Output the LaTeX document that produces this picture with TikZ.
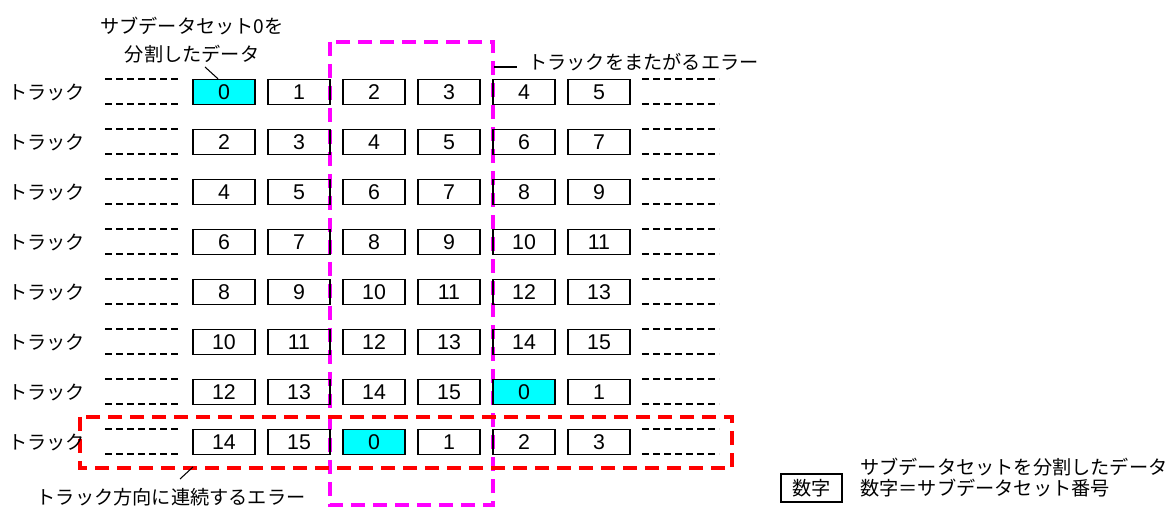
\documentclass[tikz,border=0pt]{standalone}
\usepackage{fontspec}
\setmainfont{Liberation Sans}
\newfontfamily\jpfont{Noto Sans CJK JP}
\definecolor{hitcyan}{RGB}{0,255,255}
\definecolor{errmag}{RGB}{255,0,255}
\definecolor{errred}{RGB}{255,0,0}
\begin{document}
\begin{tikzpicture}[x=0.75pt,y=-0.75pt]
  \tikzset{
    blk/.style={draw=black, line width=1pt, minimum width=46.5pt, minimum height=18.75pt, inner sep=0pt, font=\fontsize{16}{18}\selectfont},
    hit/.style={blk, fill=hitcyan},
    gap/.style={line width=1.5pt, dash pattern=on 5.25pt off 3pt},
    lbl/.style={inner sep=0pt, font=\jpfont\fontsize{14.4}{21}\selectfont},
    err/.style={line width=3pt, dash pattern=on 10.5pt off 6pt},
    lead/.style={line width=0.8pt}
  }
  \useasboundingbox (0,0) rectangle (1171,509);

  % error areas
  \draw[err, errmag] (330,42) rectangle (493,505);
  \draw[err, errred] (80,417) rectangle (732,468);

  % tracks with sub-dataset blocks
  \foreach \r in {0,...,7} {
    \pgfmathsetmacro{\y}{92+50*\r}
    \node[lbl, anchor=west] (t\r) at (8,\y) {トラック};
    \draw[gap] (105,\y-12.5) -- (181,\y-12.5);
    \draw[gap] (105,\y+12.5) -- (181,\y+12.5);
    \draw[gap] (642,\y-12.5) -- (719,\y-12.5);
    \draw[gap] (642,\y+12.5) -- (719,\y+12.5);
    \foreach \c in {0,...,5} {
      \pgfmathtruncatemacro{\v}{mod(2*\r+\c,16)}
      \pgfmathsetmacro{\x}{224+75*\c}
      \def\sty{blk}\ifnum\v=0 \def\sty{hit}\fi
      \node[\sty] (b\r\c) at (\x,\y) {\v};
    }
  }

  % callouts
  \node[lbl, align=center] (sub0) at (192,40) {サブデータセット0を\\分割したデータ};
  \coordinate (sub0tip) at (205,67);
  \draw[lead] (sub0tip) -- ([xshift=-4.5pt]b00.north);

  \node[lbl, anchor=west] (cross) at (528,62) {トラックをまたがるエラー};
  \coordinate (crossend) at (494,67);
  \draw[lead] (crossend) -- ([xshift=-8.25pt,yshift=-3.75pt]cross.west);

  \node[lbl] (along) at (171,497) {トラック方向に連続するエラー};
  \coordinate (alongtip) at (180,479);
  \coordinate (alongend) at (193,467);
  \draw[lead] (alongtip) -- (alongend);

  % legend
  \node[blk, minimum width=45.75pt, minimum height=21pt, font=\jpfont\fontsize{14.4}{16}\selectfont] (key) at (811.5,488) {数字};
  \node[lbl, anchor=west] (key1) at (860,467) {サブデータセットを分割したデータ};
  \node[lbl, anchor=west] (key2) at (860,488) {数字＝サブデータセット番号};
\end{tikzpicture}
\end{document}
